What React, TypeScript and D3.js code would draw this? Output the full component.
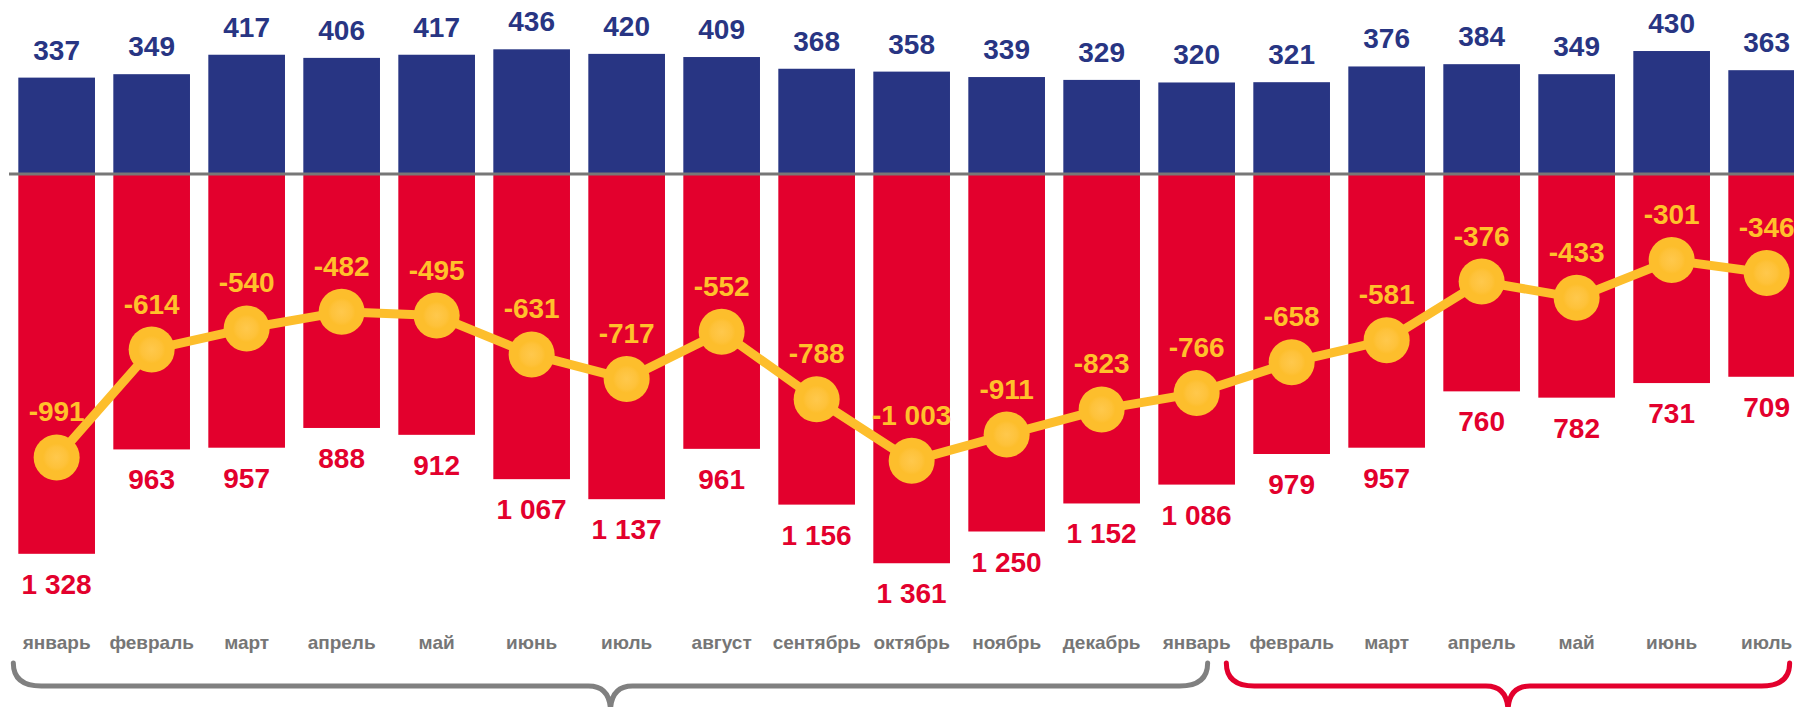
import React from "react";
import * as d3 from "d3";

// месяцы (два года подряд)
const months = [
  "январь", "февраль", "март", "апрель", "май", "июнь", "июль", "август",
  "сентябрь", "октябрь", "ноябрь", "декабрь",
  "январь", "февраль", "март", "апрель", "май", "июнь", "июль",
];
// экспорт (синие столбцы)
const exportValues = [337, 349, 417, 406, 417, 436, 420, 409, 368, 358, 339, 329, 320, 321, 376, 384, 349, 430, 363];
// импорт (красные столбцы, вниз)
const importValues = [1328, 963, 957, 888, 912, 1067, 1137, 961, 1156, 1361, 1250, 1152, 1086, 979, 957, 760, 782, 731, 709];
// сальдо (жёлтая линия)
const balanceValues = [-991, -614, -540, -482, -495, -631, -717, -552, -788, -1003, -911, -823, -766, -658, -581, -376, -433, -301, -346];

// группы для скобок: индексы первого и последнего месяца
const groups = [
  {from: 0, to: 12, color: "#808080"},
  {from: 13, to: 18, color: "#e3002d"},
];

const W = 1794;
const H = 707;
const BLUE = "#283583";
const RED = "#e3002d";
const YELLOW = "#fdbe2c";
const YELLOW_TEXT = "#ffc12b";
const GRAY = "#767676";
const FONT = "'Liberation Sans', Arial, sans-serif";

const fmt = d3.formatLocale({
  decimal: ",",
  thousands: "\u00a0",
  grouping: [3],
  currency: ["", ""],
  minus: "-",
}).format(",d");

const Brace = ({x0, x1, mid, color}: {x0: number; x1: number; mid: number; color: string}) => {
  const top = 663;
  const yh = 686;
  const r = 28;
  const r2 = 22;
  const tip = 712;
  const d = [
    `M${x0},${top}`,
    `Q${x0},${yh} ${x0 + r},${yh}`,
    `L${mid - r2},${yh}`,
    `Q${mid},${yh} ${mid},${tip}`,
    `Q${mid},${yh} ${mid + r2},${yh}`,
    `L${x1 - r},${yh}`,
    `Q${x1},${yh} ${x1},${top}`,
  ].join(" ");
  return <path d={d} fill="none" stroke={color} strokeWidth={5} strokeLinecap="round"/>;
};

const App = () => {
  const idx = months.map((_, i) => i);
  const x = d3
    .scaleBand<number>()
    .domain(idx)
    .range([9.15, 9.15 + 95 * months.length])
    .paddingInner(0.193)
    .paddingOuter(0.0965);
  const bw = x.bandwidth();
  const cx = (i: number) => (x(i) as number) + bw / 2;

  const y = d3.scaleLinear().domain([-1000, 1000]).range([460, -112]);
  const y0 = y(0);

  const line = d3
    .line<number>()
    .x((_, i) => cx(i))
    .y(d => y(d));

  return (
    <svg
      width={W}
      height={H}
      style={{position: "absolute", left: 0, top: 0, display: "block"}}
      fontFamily={FONT}
      fontWeight="bold"
    >
      <defs>
        <radialGradient id="dot">
          <stop offset="0%" stopColor="#ffc84c"/>
          <stop offset="45%" stopColor="#fec23a"/>
          <stop offset="60%" stopColor={YELLOW}/>
          <stop offset="100%" stopColor={YELLOW}/>
        </radialGradient>
      </defs>
      <rect width={W} height={H} fill="#ffffff"/>

      {exportValues.map((v, i) => (
        <rect key={`b${i}`} x={x(i)} y={y(v)} width={bw} height={y0 - y(v)} fill={BLUE}/>
      ))}
      {importValues.map((v, i) => (
        <rect key={`r${i}`} x={x(i)} y={y0} width={bw} height={y(-v) - y0} fill={RED}/>
      ))}

      <line x1={9} x2={W} y1={y0} y2={y0} stroke="#777777" strokeWidth={3}/>

      {exportValues.map((v, i) => (
        <text key={`bt${i}`} x={cx(i)} y={y(v) - 18} textAnchor="middle" fontSize={28} fill={BLUE}>
          {fmt(v)}
        </text>
      ))}
      {importValues.map((v, i) => (
        <text key={`rt${i}`} x={cx(i)} y={y(-v) + 40} textAnchor="middle" fontSize={28} fill={RED}>
          {fmt(v)}
        </text>
      ))}

      <path d={line(balanceValues) || ""} fill="none" stroke={YELLOW} strokeWidth={9} strokeLinejoin="round"/>
      {balanceValues.map((v, i) => (
        <circle key={`c${i}`} cx={cx(i)} cy={y(v)} r={23} fill="url(#dot)"/>
      ))}
      {balanceValues.map((v, i) => (
        <text key={`ct${i}`} x={cx(i)} y={y(v) - 36} textAnchor="middle" fontSize={28} fill={YELLOW_TEXT}>
          {fmt(v)}
        </text>
      ))}

      {months.map((m, i) => (
        <text key={`m${i}`} x={cx(i)} y={649} textAnchor="middle" fontSize={19} fill={GRAY}>
          {m}
        </text>
      ))}

      {groups.map((g, k) => {
        const x0 = k === 0 ? (x(g.from) as number) - 5 : (x(g.from) as number) - 27;
        const x1 = k === 0 ? cx(g.to) + 11 : cx(g.to) + 23;
        return <Brace key={`g${k}`} x0={x0} x1={x1} mid={(x0 + x1) / 2} color={g.color}/>;
      })}
    </svg>
  );
};

export default App;
